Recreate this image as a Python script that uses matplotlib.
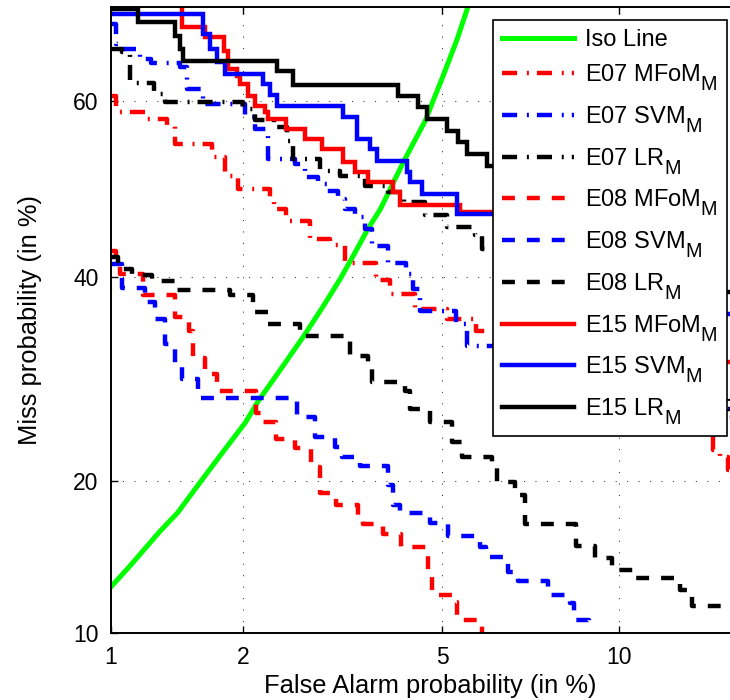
import numpy as np
import matplotlib
matplotlib.use("Agg")
import matplotlib.pyplot as plt
from statistics import NormalDist

try:
    import matplotlib._mathtext as _mt
    _mt.SHRINK_FACTOR = 0.84            # larger subscripts
    _mt.FontConstantsBase.sub1 = 0.75   # subscripts set lower
except Exception:
    pass

plt.rcParams["font.family"] = ["Liberation Sans", "DejaVu Sans"]
plt.rcParams["mathtext.fontset"] = "custom"
plt.rcParams["mathtext.rm"] = "Liberation Sans"
plt.rcParams["mathtext.it"] = "Liberation Sans:italic"
plt.rcParams["mathtext.bf"] = "Liberation Sans:bold"

# ---- DET data: false alarm (%) and miss (%) ----
iso_fa = [1.00, 1.11, 1.30, 1.43, 1.61, 1.82, 2.02, 2.15, 2.40, 2.68, 2.94,
          3.18, 3.41, 3.61, 3.82, 4.23, 4.65, 5.02, 5.33, 5.58, 5.66]
iso_miss = [12.54, 13.84, 16.13, 17.51, 19.91, 22.58, 25.01, 26.98, 30.11, 33.51, 36.72,
            39.70, 42.73, 45.36, 47.65, 53.06, 57.75, 62.75, 66.72, 70.1, 71.3]

e07_mfom_fa = [1.00, 1.03, 1.21, 1.35, 1.41, 1.71, 1.82, 1.95, 2.28, 2.32,
               2.46, 2.77, 3.04, 3.26, 3.75, 3.99, 4.45, 5.11, 5.77, 6.89,
               8.04, 9.69, 11.18, 12.83, 13.84, 14.16, 14.53, 16.0]
e07_mfom_miss = [60.55, 58.76, 57.97, 57.18, 55.12, 53.63, 51.45, 49.95, 48.80, 47.65,
                 46.27, 44.21, 43.53, 41.49, 39.59, 38.04, 36.40, 35.32, 34.04, 32.66,
                 30.61, 28.13, 26.22, 24.09, 22.58, 21.91, 20.89, 20.89]

e07_svm_fa = [1.00, 1.03, 1.07, 1.17, 1.24, 1.45, 1.50, 1.63, 2.02, 2.12,
              2.26, 2.57, 2.70, 2.87, 3.00, 3.15, 3.26, 3.41, 3.57, 3.68,
              3.95, 4.28, 4.41, 4.55, 5.31, 5.55, 7.16, 9.35, 12.40, 14.53, 16.0]
e07_svm_miss = [68.28, 66.19, 65.67, 64.59, 64.16, 63.73, 61.32, 59.66, 58.20, 56.84,
                53.40, 52.83, 51.34, 50.53, 49.72, 48.80, 47.65, 46.73, 45.36, 43.41,
                41.49, 40.25, 38.59, 36.18, 34.78, 32.46, 31.12, 28.62, 26.22, 25.47, 25.47]

e07_lr_fa = [1.00, 1.06, 1.11, 1.26, 1.34, 2.00, 2.12, 2.33, 2.48, 2.55,
             2.90, 3.18, 3.57, 3.95, 4.25, 4.65, 5.11, 5.74, 5.91, 7.16,
             8.68, 10.79, 13.26, 14.53, 16.0]
e07_lr_miss = [65.67, 65.35, 61.99, 60.77, 59.88, 59.10, 57.86, 57.06, 55.47, 53.40,
               52.02, 51.45, 50.30, 49.61, 48.46, 46.96, 45.58, 44.67, 43.07, 39.70,
               35.32, 31.12, 27.64, 26.22, 26.22]

e08_mfom_fa = [1.00, 1.03, 1.05, 1.19, 1.41, 1.52, 1.55, 1.65, 1.75, 2.13,
               2.18, 2.35, 2.57, 2.78, 2.90, 3.12, 3.46, 3.53, 3.87, 4.19,
               4.71, 4.79, 5.28, 5.33, 5.91]
e08_mfom_miss = [42.84, 41.94, 40.25, 37.93, 35.53, 34.04, 31.32, 29.61, 27.94, 25.93,
                 25.01, 23.55, 22.76, 21.14, 19.04, 18.11, 17.36, 16.70, 15.98, 15.09,
                 13.46, 12.08, 11.67, 10.68, 9.41]

e08_svm_fa = [1.00, 1.06, 1.20, 1.27, 1.34, 1.41, 1.46, 1.59, 2.60, 2.83,
              3.11, 3.21, 3.49, 3.95, 4.04, 4.17, 4.75, 5.13, 5.86, 6.00,
              6.56, 6.83, 7.68, 8.36, 8.48, 8.97]
e08_svm_miss = [41.38, 38.70, 37.16, 35.32, 32.67, 30.41, 29.12, 27.35, 25.47, 23.73,
                22.84, 21.99, 21.22, 19.67, 18.11, 17.51, 16.77, 15.84, 15.09, 14.42,
                13.46, 12.91, 12.08, 11.61, 10.68, 9.41]

e08_lr_fa = [1.00, 1.04, 1.07, 1.12, 1.25, 1.41, 1.87, 2.10, 2.26, 2.64,
             3.33, 3.61, 3.68, 4.26, 4.36, 4.75, 5.22, 5.44, 6.15, 6.28,
             6.75, 7.02, 8.55, 9.18, 9.76, 10.60, 12.40, 12.91, 16.0]
e08_lr_miss = [42.16, 41.49, 40.81, 40.14, 39.48, 38.48, 37.93, 36.07, 34.78, 33.51,
               31.43, 30.31, 28.82, 27.94, 26.22, 25.01, 23.29, 21.99, 21.14, 19.91,
               18.88, 16.70, 15.16, 14.36, 13.58, 13.09, 12.37, 11.44, 11.44]

e15_mfom_fa = [1.00, 1.46, 1.65, 1.81, 1.85, 1.94, 1.97, 2.05, 2.12, 2.23,
               2.26, 2.46, 2.70, 2.93, 3.22, 3.41, 3.61, 4.04, 4.17, 5.39,
               7.45, 9.35, 11.57, 13.94, 16.0]
e15_mfom_miss = [75.0, 67.97, 66.93, 65.45, 63.52, 62.75, 61.88, 60.55, 59.43, 58.76,
                 57.97, 56.84, 55.70, 54.55, 53.06, 51.91, 50.76, 49.61, 48.11, 47.31,
                 43.07, 38.58, 34.25, 30.91, 30.91]

e15_svm_fa = [1.00, 1.63, 1.69, 1.75, 1.82, 2.20, 2.28, 2.36, 3.22, 3.44,
              3.65, 3.77, 4.30, 4.36, 4.59, 5.33, 6.18, 7.74, 10.06, 12.83, 16.0]
e15_svm_miss = [69.31, 67.24, 65.67, 64.27, 62.97, 61.88, 60.66, 59.43, 58.20, 55.70,
                54.55, 53.17, 51.91, 50.76, 49.38, 47.08, 47.08, 43.07, 39.14, 35.86, 35.86]

e15_lr_fa = [1.00, 1.16, 1.41, 1.45, 1.47, 2.36, 2.55, 4.13, 4.51, 4.69,
             5.11, 5.35, 5.55, 6.03, 7.45, 9.35, 11.57, 13.26, 16.0]
e15_lr_miss = [69.81, 68.49, 67.03, 65.67, 64.38, 63.30, 61.77, 60.55, 59.32, 57.97,
               56.61, 55.35, 53.98, 52.60, 48.80, 44.21, 40.81, 38.25, 38.25]

x_ticks = [1, 2, 5, 10]
y_ticks = [10, 20, 40, 60]
x_range = (1, 15.6)
y_range = (10, 70)

# ---- normal-deviate (probit) axis scale ----
_nd = NormalDist()
_ppf = np.vectorize(_nd.inv_cdf, otypes=[float])
_cdf = np.vectorize(_nd.cdf, otypes=[float])


def probit(p):
    p = np.clip(np.asarray(p, dtype=float) / 100.0, 1e-9, 1 - 1e-9)
    return _ppf(p)


def inv_probit(z):
    z = np.nan_to_num(np.asarray(z, dtype=float), nan=0.0, posinf=8.0, neginf=-8.0)
    return _cdf(z) * 100.0


LW = 3.2
DASHED = (0, (2.9, 2.7))
DASHDOT = (0, (3.4, 2.2, 0.45, 1.8))

fig = plt.figure(figsize=(7.3, 7.0), dpi=100, facecolor="white")
ax = fig.add_axes([111 / 730, 67 / 700, (750 - 111) / 730, 626 / 700])
ax.set_xscale("function", functions=(probit, inv_probit))
ax.set_yscale("function", functions=(probit, inv_probit))

ax.plot(iso_fa, iso_miss, color="#00ff00", lw=LW + 0.4, label="Iso Line")

curves = [
    (e07_mfom_fa, e07_mfom_miss, "red", DASHDOT, r"E07 MFoM$_\mathrm{M}$"),
    (e07_svm_fa, e07_svm_miss, "blue", DASHDOT, r"E07 SVM$_\mathrm{M}$"),
    (e07_lr_fa, e07_lr_miss, "black", DASHDOT, r"E07 LR$_\mathrm{M}$"),
    (e08_mfom_fa, e08_mfom_miss, "red", DASHED, r"E08 MFoM$_\mathrm{M}$"),
    (e08_svm_fa, e08_svm_miss, "blue", DASHED, r"E08 SVM$_\mathrm{M}$"),
    (e08_lr_fa, e08_lr_miss, "black", DASHED, r"E08 LR$_\mathrm{M}$"),
    (e15_mfom_fa, e15_mfom_miss, "red", "-", r"E15 MFoM$_\mathrm{M}$"),
    (e15_svm_fa, e15_svm_miss, "blue", "-", r"E15 SVM$_\mathrm{M}$"),
    (e15_lr_fa, e15_lr_miss, "black", "-", r"E15 LR$_\mathrm{M}$"),
]
for fa, miss, col, ls, lab in curves:
    ax.plot(fa, miss, color=col, linestyle=ls, lw=LW, drawstyle="steps-post",
            solid_joinstyle="miter", dash_capstyle="butt", label=lab)

ax.set_xlim(*x_range)
ax.set_ylim(*y_range)
ax.set_xticks(x_ticks)
ax.set_xticklabels([str(t) for t in x_ticks])
ax.set_yticks(y_ticks)
ax.set_yticklabels([str(t) for t in y_ticks])
ax.minorticks_off()
ax.tick_params(direction="in", length=5, width=1.0, top=True, right=True,
               labelsize=16.5, pad=9)
ax.grid(True, which="major", color="#303030", linestyle=(0, (1, 10)), linewidth=0.75)
for sp in ax.spines.values():
    sp.set_linewidth(1.4)

ax.set_xlabel("False Alarm probability (in %)", fontsize=18.4, labelpad=4)
ax.set_ylabel("Miss probability (in %)", fontsize=18.4, labelpad=22)

leg = ax.legend(loc="upper right", bbox_to_anchor=(727 / 730, 680 / 700),
                bbox_transform=fig.transFigure, fontsize=17, handlelength=3.05,
                handletextpad=0.45, labelspacing=0.465, borderpad=0.4,
                borderaxespad=0, fancybox=False, framealpha=1.0,
                edgecolor="black")
leg.get_frame().set_linewidth(1.2)

fig.savefig("out.png", dpi=100, facecolor="white")
